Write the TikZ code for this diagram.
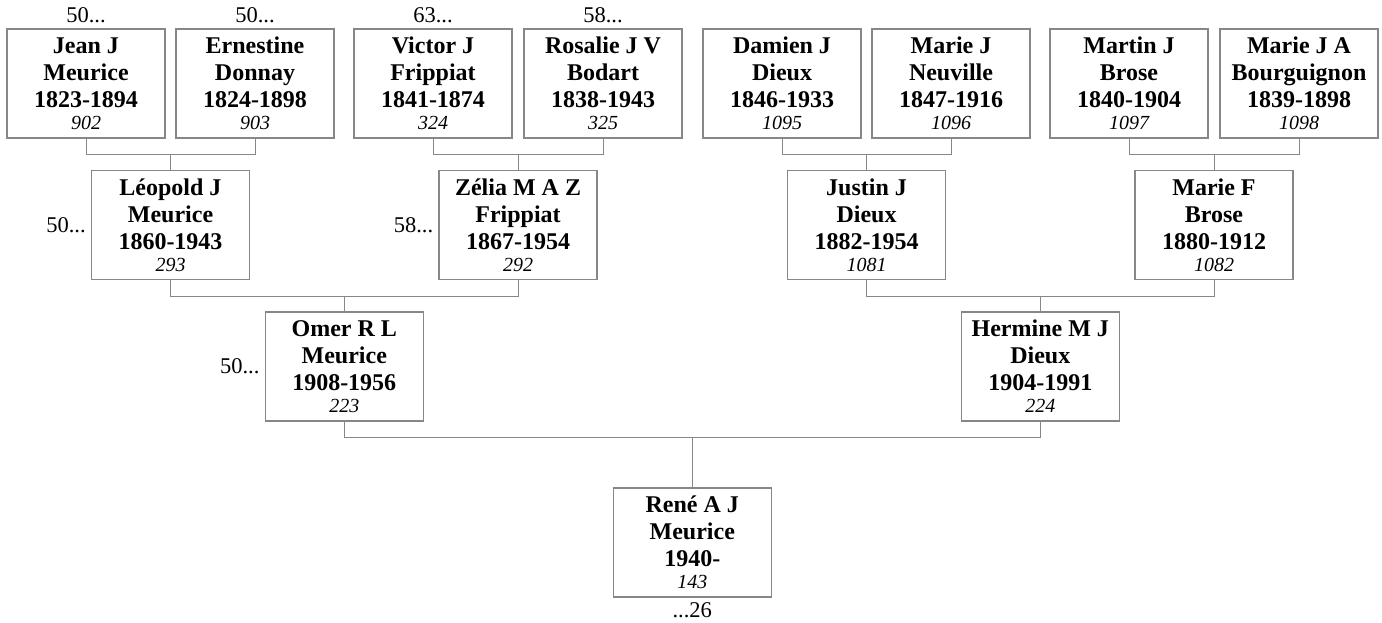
\documentclass[tikz,border=0pt]{standalone}
\usepackage{fontspec}
\setmainfont{Liberation Serif}
\definecolor{linegray}{RGB}{135,135,135}
\newcommand\pnum[1]{\\[-5pt]{\mdseries\itshape\fontsize{20}{22}\selectfont #1}}
\tikzset{
  person/.style={draw=linegray, line width=1.3pt, minimum width=158pt, minimum height=109pt,
    inner sep=0pt, align=center, font=\bfseries\fontsize{24}{27}\selectfont},
  link/.style={draw=linegray, line width=1pt},
  gen/.style={font=\fontsize{22.5}{24}\selectfont, inner sep=0pt}
}
\begin{document}
\begin{tikzpicture}[x=1pt,y=-1pt]
\useasboundingbox (0,0) rectangle (1382,622);
% generation 1
\node[person] (jean) at (86,83.5) {Jean J\\Meurice\\1823-1894\pnum{902}};
\node[person] (ern)  at (255,83.5) {Ernestine\\Donnay\\1824-1898\pnum{903}};
\node[person] (vic)  at (433,83.5) {Victor J\\Frippiat\\1841-1874\pnum{324}};
\node[person] (ros)  at (603,83.5) {Rosalie J V\\Bodart\\1838-1943\pnum{325}};
\node[person] (dam)  at (782,83.5) {Damien J\\Dieux\\1846-1933\pnum{1095}};
\node[person] (mneu) at (951,83.5) {Marie J\\Neuville\\1847-1916\pnum{1096}};
\node[person] (mart) at (1129,83.5) {Martin J\\Brose\\1840-1904\pnum{1097}};
\node[person] (mbou) at (1299,83.5) {Marie J A\\Bourguignon\\1839-1898\pnum{1098}};
% generation 2
\node[person] (leo) at (170.5,225) {Léopold J\\Meurice\\1860-1943\pnum{293}};
\node[person] (zel) at (518,225) {Zélia M A Z\\Frippiat\\1867-1954\pnum{292}};
\node[person] (jus) at (866.5,225) {Justin J\\Dieux\\1882-1954\pnum{1081}};
\node[person] (mfb) at (1214,225) {Marie F\\Brose\\1880-1912\pnum{1082}};
% generation 3
\node[person] (omer) at (344.25,366.5) {Omer R L\\Meurice\\1908-1956\pnum{223}};
\node[person] (herm) at (1040.25,366.5) {Hermine M J\\Dieux\\1904-1991\pnum{224}};
% generation 4
\node[person] (rene) at (692.25,542.5) {René A J\\Meurice\\1940-\pnum{143}};
% generation labels
\node[gen, anchor=base] (gjean) at ([yshift=6pt]jean.north) {50...};
\node[gen, anchor=base] (gern) at ([yshift=6pt]ern.north) {50...};
\node[gen, anchor=base] (gvic) at ([yshift=6pt]vic.north) {63...};
\node[gen, anchor=base] (gros) at ([yshift=6pt]ros.north) {58...};
\node[gen, anchor=east] (gleo) at ([xshift=-5pt]leo.west) {50...};
\node[gen, anchor=east] (gzel) at ([xshift=-5pt]zel.west) {58...};
\node[gen, anchor=east] (gomer) at ([xshift=-5pt]omer.west) {50...};
\node[gen, anchor=base] (grene) at ([yshift=-20pt]rene.south) {...26};
% connectors
\draw[link] (jean.south) -- (jean.south |- 0,154) -| (ern.south);
\draw[link] (leo.north) -- (leo.north |- 0,154);
\draw[link] (vic.south) -- (vic.south |- 0,154) -| (ros.south);
\draw[link] (zel.north) -- (zel.north |- 0,154);
\draw[link] (dam.south) -- (dam.south |- 0,154) -| (mneu.south);
\draw[link] (jus.north) -- (jus.north |- 0,154);
\draw[link] (mart.south) -- (mart.south |- 0,154) -| (mbou.south);
\draw[link] (mfb.north) -- (mfb.north |- 0,154);
\draw[link] (leo.south) -- (leo.south |- 0,296) -| (zel.south);
\draw[link] (omer.north) -- (omer.north |- 0,296);
\draw[link] (jus.south) -- (jus.south |- 0,296) -| (mfb.south);
\draw[link] (herm.north) -- (herm.north |- 0,296);
\draw[link] (omer.south) -- (omer.south |- 0,437) -| (herm.south);
\draw[link] (rene.north) -- (rene.north |- 0,437);
\end{tikzpicture}
\end{document}
